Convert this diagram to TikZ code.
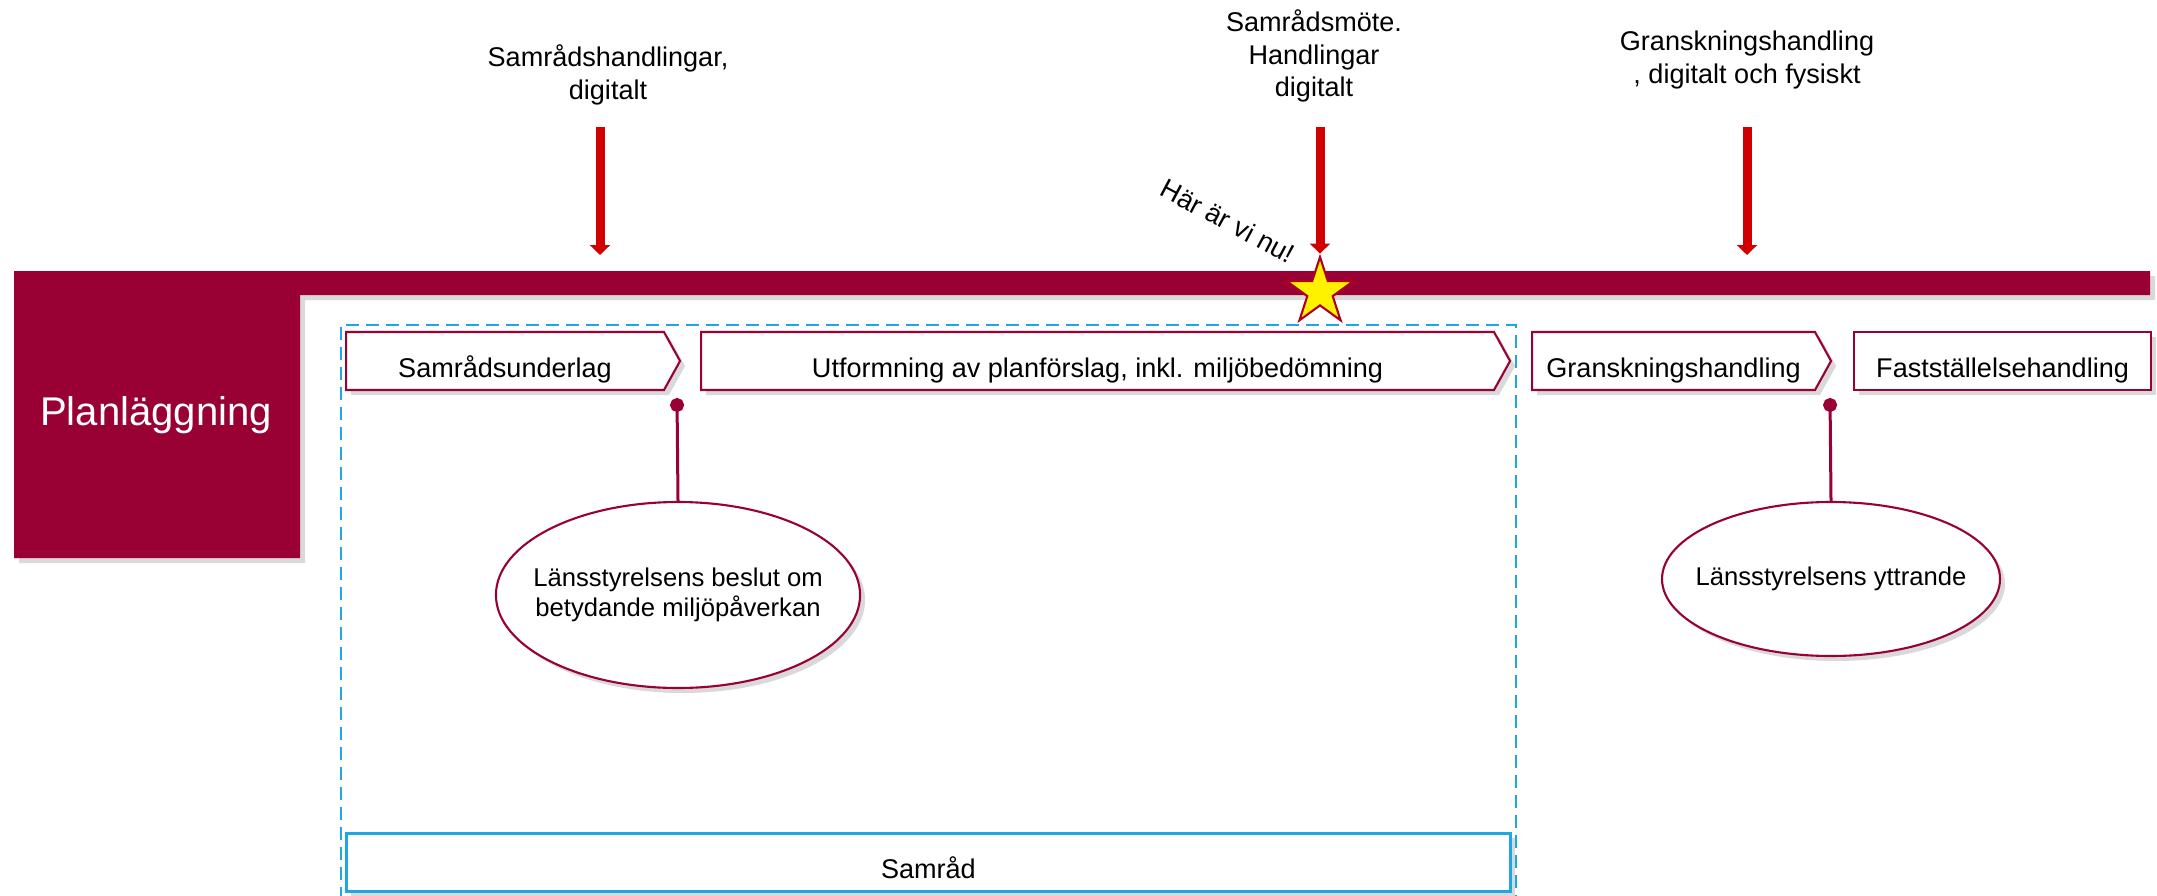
\documentclass[tikz,border=0pt]{standalone}
\usepackage{fontspec}
\setmainfont{Liberation Sans}
\usepackage{tikz}
\usetikzlibrary{shapes.geometric,shapes.symbols,shadows,arrows.meta}

\definecolor{planred}{HTML}{990033}
\definecolor{arrowred}{HTML}{D00000}
\definecolor{stardark}{HTML}{B00020}
\definecolor{samradblue}{HTML}{1FA8E0}

\begin{document}
\begin{tikzpicture}[x=1cm, y=-1cm,
    every node/.style={font=\fontsize{7.7}{9.2}\selectfont},
    mshadow/.style={drop shadow={opacity=0.3, shadow xshift=0.05cm, shadow yshift=-0.05cm}},
    stepsig/.style={signal, signal to=east, signal from=nowhere, signal pointer angle=122,
        draw=planred, line width=0.6pt, fill=white, minimum height=0.58cm, inner sep=0pt,
        text height=1.75ex, text depth=0pt, anchor=west, mshadow},
    stepbox/.style={rectangle, draw=planred, line width=0.6pt, fill=white, minimum height=0.58cm,
        inner sep=0pt, text height=1.75ex, text depth=0pt, anchor=west, mshadow},
    noteell/.style={ellipse, draw=planred, line width=0.6pt, fill=white, inner ysep=0pt, inner xsep=-0.16cm,
        align=center, font=\fontsize{7.3}{8.6}\selectfont, mshadow},
    redarrow/.style={draw=arrowred, line width=0.09cm, -{Triangle[width=0.2cm,length=0.1cm]}},
    pinline/.style={draw=planred, line width=0.03cm, {Circle[length=0.14cm]}-}]
    \useasboundingbox (0,0) rectangle (21.57,8.95);

    \fill[planred, mshadow] (0.14,2.71) -- (21.50,2.71) -- (21.50,2.95) -- (3.00,2.95)
        -- (3.00,5.58) -- (0.14,5.58) -- cycle;
    \node[text=white, font=\fontsize{11.4}{13}\selectfont] at (1.56,4.15) (plan) {Planläggning};
    \coordinate (bartop) at (0,2.71);

    \node[align=center] at (6.08,0.75) (lblA) {Samrådshandlingar,\\digitalt};
    \node[align=center] at (13.14,0.56) (lblB) {Samrådsmöte.\\Handlingar\\digitalt};
    \node[align=center] at (17.47,0.60) (lblC) {Granskningshandling\\, digitalt och fysiskt};

    \coordinate (sA) at (6.00,1.27);
    \coordinate (sB) at (13.20,1.27);
    \coordinate (sC) at (17.47,1.27);

    \draw[samradblue, line width=0.02cm, dash pattern=on 0.13cm off 0.07cm]
        (3.41,9.0) |- (15.16,3.25) -- (15.16,9.0);

    \node[star, star points=5, star point ratio=2.618, minimum size=0.7cm, inner sep=0pt,
        fill=yellow, draw=stardark, line width=0.6pt] at (13.20,2.92) (here) {};
    \node[rotate=-28] at (12.28,2.21) (nu) {Här är vi nu!};

    \draw[redarrow, shorten >=0.16cm] (sA) -- (sA |- bartop);
    \draw[redarrow] (sB) -- (here.north);
    \draw[redarrow, shorten >=0.16cm] (sC) -- (sC |- bartop);

    \node[stepsig, minimum width=3.34cm] at (3.45,3.61) (underlag) {Samrådsunderlag};
    \node[stepsig, minimum width=8.09cm] at (7.00,3.61) (utform) {Utformning av planförslag, inkl. miljöbedömning};
    \node[stepsig, minimum width=2.99cm] at (15.31,3.61) (gransk) {Granskningshandling};
    \node[stepbox, minimum width=2.97cm] at (18.53,3.61) (faststall) {Fastställelsehandling};

    \coordinate (pinA) at (6.77,3.98);
    \coordinate (pinB) at (18.30,3.98);
    \node[noteell, minimum width=3.62cm, minimum height=1.86cm] at (6.78,5.95) (beslut)
        {Länsstyrelsens beslut om\\betydande miljöpåverkan};
    \node[noteell, minimum width=3.38cm, minimum height=1.54cm] at (18.31,5.79) (yttrande)
        {Länsstyrelsens yttrande};
    \draw[pinline] (pinA) -- (beslut.north);
    \draw[pinline] (pinB) -- (yttrande.north);

    \node[draw=samradblue, line width=0.8pt, fill=white, minimum width=11.64cm, minimum height=0.58cm,
        inner sep=0pt, text height=1.75ex, text depth=0pt, anchor=north west, mshadow]
        at (3.45,8.32) (samrad) {Samråd};
\end{tikzpicture}
\end{document}
